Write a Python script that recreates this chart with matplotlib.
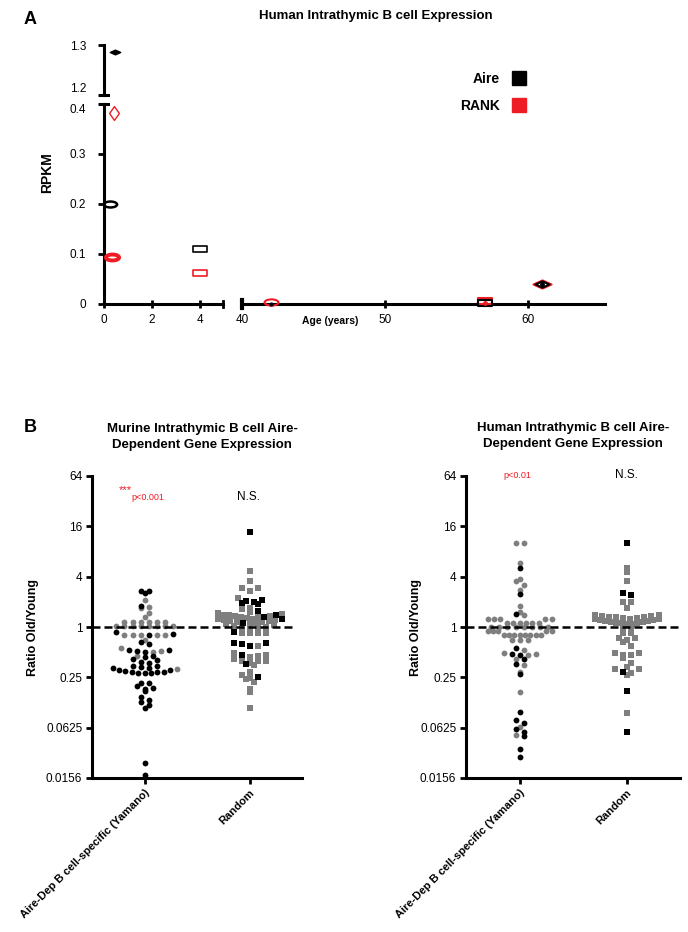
import numpy as np
import matplotlib
matplotlib.use('Agg')
import matplotlib.pyplot as plt
from matplotlib.path import Path
from matplotlib.lines import Line2D

plt.rcParams['font.family'] = ['Liberation Sans', 'DejaVu Sans']

# ---- Panel A data (age in years, RPKM) ----
aire_age = [0.45, 0.25, 4, 42, 57, 61]
aire_rpkm = [1.286, 0.2, 0.11, 0.001, 0.002, 0.04]
rank_age = [0.42, 0.33, 4, 42, 57, 61]
rank_rpkm = [0.382, 0.094, 0.062, 0.004, 0.006, 0.04]
sample_shape = ['diamond', 'ellipse', 'rect', 'ellipse', 'rect', 'diamond']

# ---- Panel B data (log2 of ratio old/young) ----
# murine, Aire-dependent B cell specific genes
mur_aire_black = [1.44, 1.36, 1.44, 0.83, -0.2, -0.28, -0.32, -0.58, -0.68,
                  -0.9, -0.95, -0.92, -0.98, -1.27, -1.2, -1.15, -1.3, -1.38, -1.42, -1.57,
                  -1.55, -1.64, -1.71, -1.77, -1.8, -1.81, -1.84, -1.81, -1.79, -1.75, -1.69,
                  -1.63, -1.55, -2.21, -2.21, -2.34, -2.41, -2.53, -2.47, -2.99, -2.79, -2.9,
                  -3.2, -3.11, -5.41, -5.87]
mur_aire_gray = [1.07, 0.78, 0.74, 0.57, 0.38, 0.21, 0.21, 0.21, 0.21, 0.21, 0.21,
                 0.04, 0.04, 0.04, 0.04, 0.04, 0.04, 0.04, 0.04,
                 -0.32, -0.32, -0.32, -0.32, -0.32, -0.52, -0.85, -0.98, -0.94, -1.15, -1.67]
# murine, random genes
mur_rand_black = [3.78, 1.07, 0.97, 0.91, 1.0, 1.03, 0.63, 0.48, 0.41, 0.3, 0.17,
                  -0.19, -0.62, -0.69, -0.75, -0.65, -1.11, -1.48, -1.97]
mur_rand_gray = [2.23, 1.83, 1.54, 1.54, 1.44, 1.14, 0.7, 0.77, 0.54, 0.61,
                 0.5, 0.48, 0.46, 0.44, 0.42, 0.4, 0.38, 0.36, 0.33, 0.31, 0.29, 0.27,
                 0.25, 0.23, 0.2, 0.18, 0.15, 0.12, 0.1, 0.06, 0.03, 0.0, -0.02,
                 -0.05, -0.25, -0.25, -0.25, -0.25, -0.09, -0.75,
                 -1.11, -1.2, -1.34, -1.04, -1.34, -1.42, -1.34, -1.27, -1.14, -1.51,
                 -1.8, -1.9, -2.08, -2.04, -2.17, -2.47, -2.57, -3.2]
# human, Aire-dependent B cell specific genes
hum_aire_black = [2.33, 1.3, 0.52, -0.85, -1.28, -1.11, -1.07, -1.47, -1.87,
                  -3.39, -3.69, -3.8, -4.05, -4.18, -4.35, -4.84, -5.16]
hum_aire_gray = [3.32, 3.32, 2.53, 1.84, 1.67, 1.9, 1.47, 0.83, 0.61, 0.48,
                 0.3, 0.3, 0.3, 0.3, 0.3, 0.17, 0.17, 0.17, 0.17, 0.17, 0.17,
                 0.01, 0.01, 0.01, 0.01, 0.01, 0.01, 0.01, 0.01,
                 -0.16, -0.16, -0.16, -0.16, -0.16,
                 -0.32, -0.32, -0.32, -0.32, -0.32, -0.32, -0.32, -0.32,
                 -0.52, -0.52, -0.52, -0.91, -1.07, -1.27, -1.11, -1.02,
                 -1.51, -1.77, -2.57, -3.98, -4.31]
# human, random genes
hum_rand_black = [3.32, 1.34, 1.27, -1.77, -2.54, -4.19]
hum_rand_gray = [2.35, 2.17, 1.84, 1.0, 1.0, 0.74, 0.77,
                 0.47, 0.46, 0.44, 0.43, 0.41, 0.4, 0.38, 0.37, 0.35, 0.33, 0.32,
                 0.3, 0.28, 0.26, 0.24, 0.22, 0.2, 0.19, 0.17, 0.16, 0.14, 0.13, 0.12,
                 -0.07, -0.07, -0.25, -0.25, -0.45, -0.45, -0.5, -0.58, -0.75,
                 -1.04, -1.11, -1.24, -1.11, -1.02, -1.42,
                 -1.68, -1.57, -1.84, -1.9, -1.68, -3.43]

categories = ['Aire-Dep B cell-specific (Yamano)', 'Random']
ratio_ticks = [2.0**-6, 2.0**-4, 2.0**-2, 1, 4, 16, 64]
ratio_labels = ['0.0156', '0.0625', '0.25', '1', '4', '16', '64']

RED = '#ee1c24'
GRAY = '#7f7f7f'
W, H = 688, 932


def box(left, top, right, bottom):
    # pixel box -> figure fraction rect
    return [left / W, (H - bottom) / H, (right - left) / W, (bottom - top) / H]


def swarm_x(ax, xc, yvals, gx, h, maxw):
    # prism-like scatter: values grouped into rows, rows spread sideways
    tr = ax.transData
    n = len(yvals)
    pts = tr.transform(np.column_stack([np.full(n, xc), yvals]))
    cx, ys = pts[0, 0], pts[:, 1]
    y1 = tr.transform((xc, 1))[1]
    rows = np.floor((ys - y1) / h + 0.5).astype(int)
    offs = np.zeros(n)
    for r in np.unique(rows):
        idx = np.where(rows == r)[0]
        idx = idx[np.argsort(ys[idx], kind='stable')]
        m = len(idx)
        step = gx if m < 2 else min(gx, maxw / (m - 1))
        slots = (np.arange(m) - (m - 1) / 2) * step
        slots = slots[np.lexsort((-slots, np.round(np.abs(slots), 6)))]
        offs[idx] = slots
    back = tr.inverted().transform(np.column_stack([cx + offs, ys]))
    return back[:, 0]


fig = plt.figure(figsize=(6.88, 9.32), dpi=100)

# ================= Panel A =================
ellipse = Path(Path.unit_circle().vertices * [1, 0.45], Path.unit_circle().codes)
rect = Path([(-1, -0.5), (1, -0.5), (1, 0.5), (-1, 0.5), (-1, -0.5)], closed=True)
dia_wide = Path([(-1, 0), (0, 0.45), (1, 0), (0, -0.45), (-1, 0)], closed=True)
dia_tall = Path([(-0.7, 0), (0, 1), (0.7, 0), (0, -1), (-0.7, 0)], closed=True)

axA = fig.add_axes(box(104, 104, 223, 304))
axA2 = fig.add_axes(box(242, 104, 605, 304))
axAt = fig.add_axes(box(104, 45, 223, 95))

axA.set_xlim(0, 4.96)
axA.set_ylim(0, 0.4)
axA2.set_xlim(40, 65.4)
axA2.set_ylim(0, 0.4)
axAt.set_xlim(0, 4.96)
axAt.set_ylim(1.2, 1.3)

for ax in (axA, axA2, axAt):
    for s in ax.spines.values():
        s.set_linewidth(2.2)
    ax.patch.set_visible(False)
axA.spines[['top', 'right']].set_visible(False)
axA2.spines[['top', 'right', 'left']].set_visible(False)
axAt.spines[['top', 'right', 'bottom']].set_visible(False)

axA.set_yticks([0, 0.1, 0.2, 0.3, 0.4], ['0', '0.1', '0.2', '0.3', '0.4'])
axA.set_xticks([0, 2, 4], ['0', '2', '4'])
axA2.set_xticks([40, 50, 60], ['40', '50', '60'])
axA2.set_yticks([])
axAt.set_yticks([1.2, 1.3], ['1.2', '1.3'])
axAt.set_xticks([])
for ax in (axA, axA2, axAt):
    ax.tick_params(axis='y', direction='out', length=4, width=2, pad=9, labelsize=8.5)
    ax.tick_params(axis='x', direction='inout', length=6, width=2, pad=4, labelsize=8.5)
# keep the two labels at the axis break apart
axAt.get_yticklabels()[0].set_va('bottom')
axA.get_yticklabels()[-1].set_va('top')

# break caps
axA.plot([-0.035, 0.035], [1, 1], color='k', lw=2.2, transform=axA.transAxes, clip_on=False)
axAt.plot([-0.035, 0.035], [0, 0], color='k', lw=2.2, transform=axAt.transAxes, clip_on=False)
axA.plot([1, 1], [-0.015, 0.015], color='k', lw=2, transform=axA.transAxes, clip_on=False)
axA2.plot([0, 0], [-0.018, 0.018], color='k', lw=3, transform=axA2.transAxes, clip_on=False)


def pick_ax(age, val):
    if val > 1:
        return axAt
    return axA if age < 5 else axA2


aire_style = [dict(marker=dia_wide, ms=7.5, mfc='k', mew=1),
              dict(marker=ellipse, ms=9.5, mfc='none', mew=1.8),
              dict(marker=rect, ms=9.5, mfc='none', mew=1.2),
              dict(marker='o', ms=3, mfc='k', mew=0),
              dict(marker=rect, ms=9.5, mfc='none', mew=1.5),
              dict(marker=dia_wide, ms=10, mfc='none', mew=1.5)]
rank_style = [dict(marker=dia_tall, ms=10, mfc='none', mew=1),
              dict(marker=ellipse, ms=9.5, mfc='none', mew=2.8),
              dict(marker=rect, ms=10, mfc='none', mew=1.2),
              dict(marker=ellipse, ms=10, mfc='none', mew=1.5),
              dict(marker=rect, ms=10, mfc='none', mew=1.5),
              dict(marker=dia_wide, ms=13, mfc='none', mew=1.5)]

for i in range(len(rank_age)):
    ax = pick_ax(rank_age[i], rank_rpkm[i])
    ax.plot(rank_age[i], rank_rpkm[i], ls='none', mec=RED, clip_on=False, zorder=3, **rank_style[i])
for i in range(len(aire_age)):
    ax = pick_ax(aire_age[i], aire_rpkm[i])
    ax.plot(aire_age[i], aire_rpkm[i], ls='none', mec='k', clip_on=False, zorder=4, **aire_style[i])
    if aire_age[i] > 40 and sample_shape[i] != 'ellipse':
        dot_col = RED if sample_shape[i] == 'rect' else 'k'
        ax.plot(aire_age[i], aire_rpkm[i], ls='none', marker='o', ms=2.5, color=dot_col,
                clip_on=False, zorder=5)

fig.text(30 / W, 1 - 20 / H, 'A', fontsize=13, fontweight='bold', ha='center', va='center')
fig.text(376 / W, 1 - 16 / H, 'Human Intrathymic B cell Expression', fontsize=9.5,
         fontweight='bold', ha='center', va='center')
fig.text(47 / W, 1 - 173 / H, 'RPKM', fontsize=10, fontweight='bold', rotation=90,
         ha='center', va='center')
fig.text(330 / W, 1 - 321 / H, 'Age (years)', fontsize=7.5, fontweight='bold',
         ha='center', va='center')

handles = [Line2D([], [], ls='none', marker='s', ms=10.5, color='k'),
           Line2D([], [], ls='none', marker='s', ms=10.5, color=RED)]
fig.legend(handles, ['Aire', 'RANK'], loc='upper right', markerfirst=False, frameon=False,
           bbox_to_anchor=(526 / W, 1 - 72 / H), prop=dict(size=10, weight='bold'),
           borderpad=0, borderaxespad=0, handlelength=1.0, handletextpad=0.9, labelspacing=0.9)

# ================= Panel B =================
axL = fig.add_axes(box(92, 476, 302, 778))
axR = fig.add_axes(box(466, 476, 680, 778))

panels = [(axL, mur_aire_black, mur_aire_gray, mur_rand_black, mur_rand_gray),
          (axR, hum_aire_black, hum_aire_gray, hum_rand_black, hum_rand_gray)]

for ax, a_blk, a_gry, r_blk, r_gry in panels:
    ax.set_yscale('log', base=2)
    ax.set_ylim(2.0**-6, 64)
    ax.set_xlim(0.5, 2.5)
    ax.spines[['top', 'right']].set_visible(False)
    for s in ('left', 'bottom'):
        ax.spines[s].set_linewidth(2.2)
    ax.set_yticks(ratio_ticks, ratio_labels)
    ax.yaxis.set_minor_locator(matplotlib.ticker.NullLocator())
    ax.set_xticks([1, 2])
    ax.set_xticklabels(categories, rotation=45, ha='right', va='top', rotation_mode='anchor',
                       fontsize=8, fontweight='bold')
    ax.tick_params(axis='y', direction='out', length=4, width=2, pad=3, labelsize=8.5)
    ax.tick_params(axis='x', direction='out', length=4, width=2, pad=3)
    ax.set_ylabel('Ratio Old/Young', fontsize=9, fontweight='bold', labelpad=8)

    for xc, blk, gry, mk, ms in [(1, a_blk, a_gry, 'o', 4.2), (2, r_blk, r_gry, 's', 3.9)]:
        vals = np.exp2(np.array(blk + gry, dtype=float))
        xs = swarm_x(ax, xc, vals, 8.0, 5.5, 64)
        nb = len(blk)
        ax.plot(xs[nb:], vals[nb:], ls='none', marker=mk, ms=ms, color=GRAY, mew=0, zorder=3)
        ax.plot(xs[:nb], vals[:nb], ls='none', marker=mk, ms=ms, color='k', mew=0, zorder=4)

axL.plot([0.5, 2.42], [1, 1], color='k', lw=1.8, ls=(0, (3.2, 1.6)), zorder=5)
axR.plot([0.5, 2.5], [1, 1], color='k', lw=1.8, ls=(0, (3.2, 1.6)), zorder=5)
axL.yaxis.set_label_coords(-0.25, 0.5)
axR.yaxis.set_label_coords(-0.205, 0.5)

axL.text(0.88, 43.3, '***', color=RED, fontsize=8, ha='right', va='center')
axL.text(0.88, 35.7, 'p<0.001', color=RED, fontsize=6.5, ha='left', va='center')
axL.text(1.99, 35.7, 'N.S.', fontsize=8.5, ha='center', va='center')
axR.text(0.98, 65, 'p<0.01', color=RED, fontsize=6.5, ha='center', va='center', clip_on=False)
axR.text(2.0, 65, 'N.S.', fontsize=8.5, ha='center', va='center', clip_on=False)

fig.text(30 / W, 1 - 427 / H, 'B', fontsize=13, fontweight='bold', ha='center', va='center')
fig.text(202 / W, 1 - 437 / H, 'Murine Intrathymic B cell Aire-\nDependent Gene Expression',
         fontsize=9.5, fontweight='bold', ha='center', va='center', linespacing=1.5)
fig.text(573 / W, 1 - 436 / H, 'Human Intrathymic B cell Aire-\nDependent Gene Expression',
         fontsize=9.5, fontweight='bold', ha='center', va='center', linespacing=1.5)

fig.savefig('out.png', dpi=100)
